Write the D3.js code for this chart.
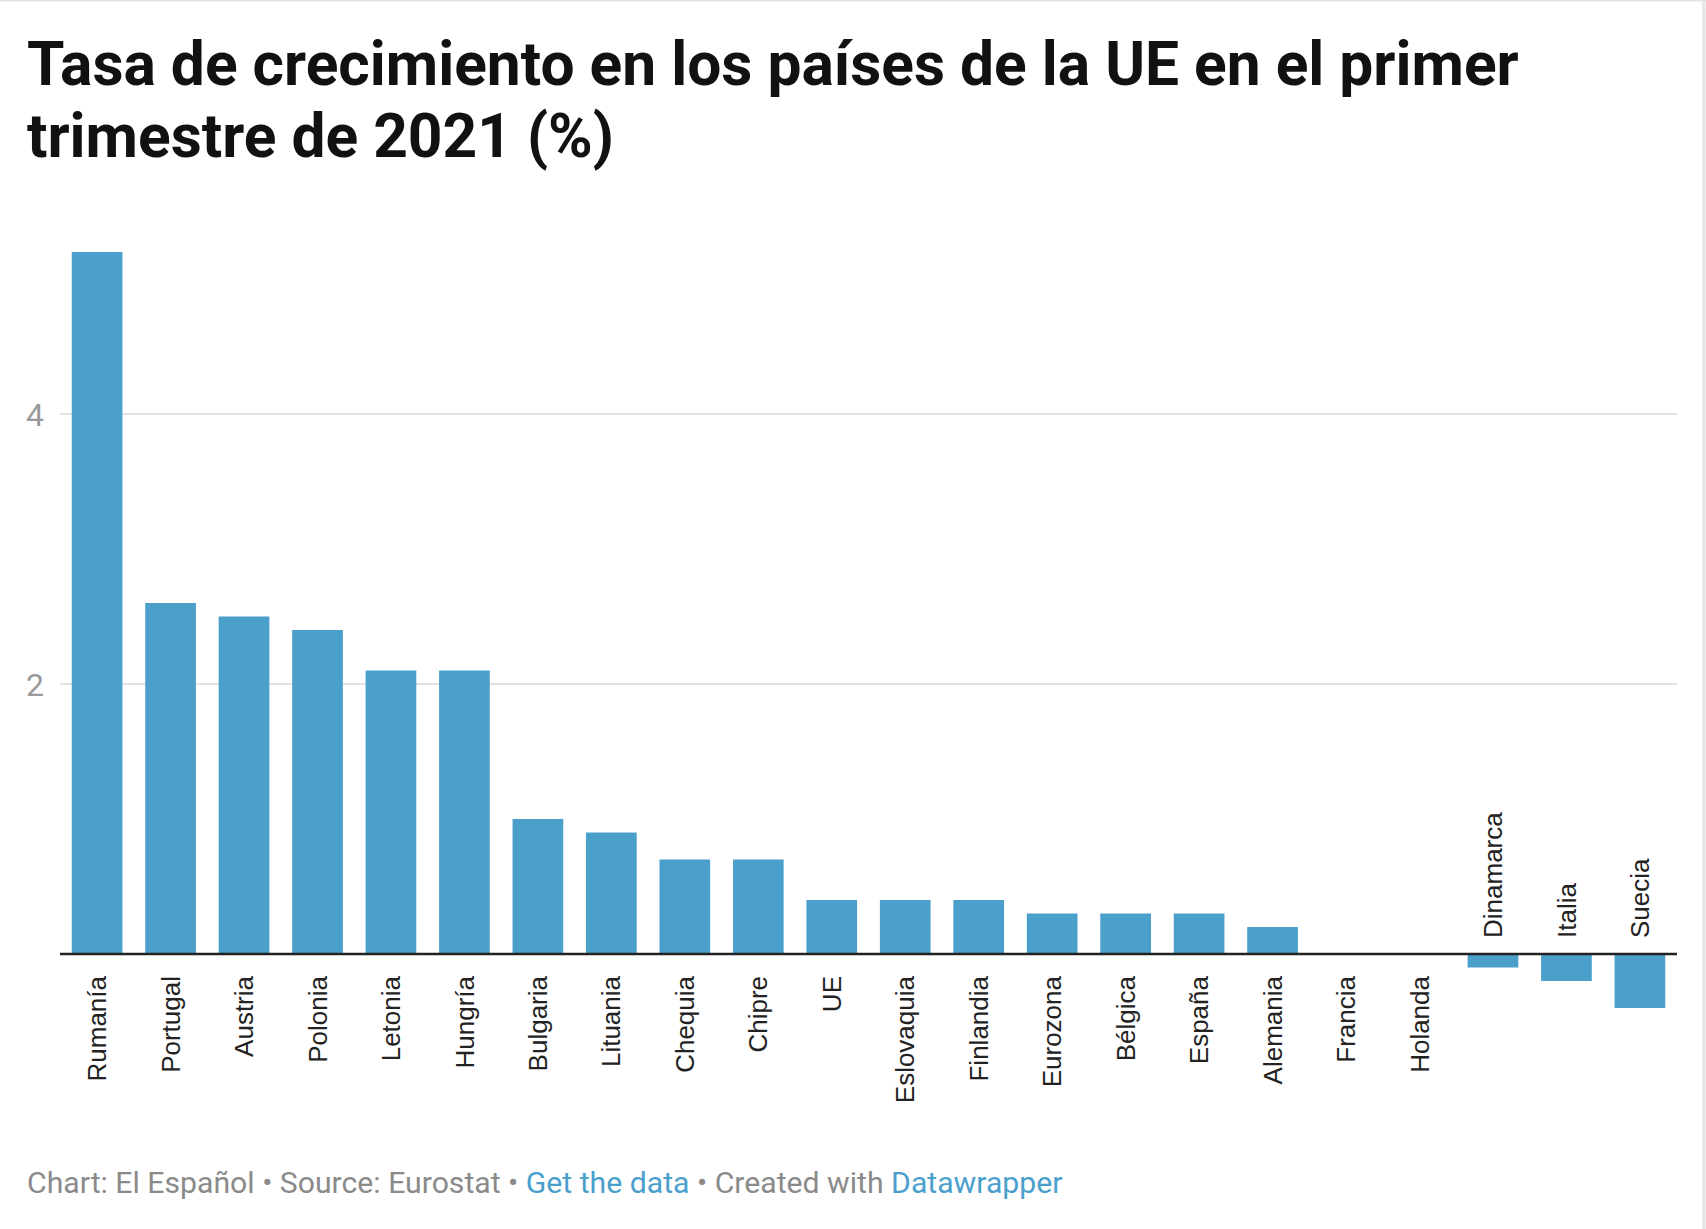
<!DOCTYPE html>
<html>
<head>
<meta charset="utf-8">
<script src="https://cdn.jsdelivr.net/npm/d3@7"></script>
<style>
  html, body { margin: 0; padding: 0; background: #fff; }
  svg { display: block; }
</style>
</head>
<body>
<div id="chart"></div>
<script>
const countries = ["Rumanía", "Portugal", "Austria", "Polonia", "Letonia", "Hungría", "Bulgaria", "Lituania",
  "Chequia", "Chipre", "UE", "Eslovaquia", "Finlandia", "Eurozona", "Bélgica", "España", "Alemania",
  "Francia", "Holanda", "Dinamarca", "Italia", "Suecia"];
const growth = [5.2, 2.6, 2.5, 2.4, 2.1, 2.1, 1.0, 0.9, 0.7, 0.7, 0.4, 0.4, 0.4, 0.3, 0.3, 0.3, 0.2,
  0, 0, -0.1, -0.2, -0.4];
const yTicks = [2, 4];
const titleLines = ["Tasa de crecimiento en los países de la UE en el primer", "trimestre de 2021 (%)"];

const width = 1706, height = 1229;
const blue = "#4b9fcb";

const svg = d3.select("#chart")
  .append("svg")
  .attr("width", width)
  .attr("height", height);

// thin frame visible on top / right edge of the screenshot
svg.append("line").attr("x1", 0).attr("x2", width).attr("y1", 0.5).attr("y2", 0.5)
  .attr("stroke", "#e4e4e4").attr("stroke-width", 2);
svg.append("line").attr("x1", width - 2).attr("x2", width - 2).attr("y1", 0).attr("y2", height)
  .attr("stroke", "#e4e4e4").attr("stroke-width", 3);

// title
const title = svg.append("g")
  .attr("font-family", "Roboto, sans-serif")
  .attr("font-weight", 700)
  .attr("fill", "#111");
titleLines.forEach((t, i) => {
  title.append("text").attr("x", 27).attr("y", 85 + i * 72).attr("font-size", 60).text(t);
});
// fit first line to the reference width
const t0 = title.select("text").node();
const fitTitle = 60 * 1492 / t0.getComputedTextLength();
title.selectAll("text").attr("font-size", fitTitle);

const margin = {left: 60, right: 29};

const x = d3.scaleBand()
  .domain(countries)
  .range([margin.left, width - margin.right])
  .paddingInner(0.31)
  .paddingOuter(0.16);

const y = d3.scaleLinear()
  .domain([0, 4])
  .range([954, 414]);

// grid
const grid = svg.append("g");
grid.selectAll("line")
  .data(yTicks)
  .join("line")
  .attr("x1", margin.left)
  .attr("x2", width - margin.right)
  .attr("y1", d => y(d))
  .attr("y2", d => y(d))
  .attr("stroke", "#e2e2e2")
  .attr("stroke-width", 2);

grid.selectAll("text")
  .data(yTicks)
  .join("text")
  .attr("x", 26)
  .attr("y", d => y(d))
  .attr("dy", "0.36em")
  .attr("font-family", "Roboto, sans-serif")
  .attr("font-size", 32)
  .attr("fill", "#9a9a9a")
  .text(d => d);

// bars
svg.append("g")
  .attr("fill", blue)
  .selectAll("rect")
  .data(countries.map((c, i) => ({c, v: growth[i]})))
  .join("rect")
  .attr("x", d => x(d.c))
  .attr("width", x.bandwidth())
  .attr("y", d => y(Math.max(0, d.v)))
  .attr("height", d => Math.abs(y(d.v) - y(0)));

// baseline
svg.append("line")
  .attr("x1", margin.left)
  .attr("x2", width - margin.right)
  .attr("y1", y(0))
  .attr("y2", y(0))
  .attr("stroke", "#222")
  .attr("stroke-width", 2.5);

// category labels
svg.append("g")
  .attr("font-family", "'Liberation Sans', Arial, sans-serif")
  .attr("font-size", 26)
  .attr("fill", "#222")
  .selectAll("text")
  .data(countries.map((c, i) => ({c, v: growth[i]})))
  .join("text")
  .attr("transform", d => {
    const cx = x(d.c) + x.bandwidth() / 2;
    const ly = d.v < 0 ? y(0) - 16 : y(0) + 22;
    return `translate(${cx},${ly}) rotate(-90)`;
  })
  .attr("dy", "0.35em")
  .attr("text-anchor", d => d.v < 0 ? "start" : "end")
  .text(d => d.c);

// footer
const footer = svg.append("text")
  .attr("x", 27)
  .attr("y", 1193)
  .attr("font-family", "Roboto, sans-serif")
  .attr("font-size", 28)
  .attr("fill", "#8a8a8a");
const parts = [
  ["Chart: El Español • Source: Eurostat • ", "#8a8a8a"],
  ["Get the data", "#4a9fcd"],
  [" • Created with ", "#8a8a8a"],
  ["Datawrapper", "#4a9fcd"]
];
parts.forEach(([t, c]) => footer.append("tspan").attr("fill", c).text(t));
const fitFooter = 28 * 1036 / footer.node().getComputedTextLength();
footer.attr("font-size", fitFooter);
</script>
</body>
</html>
